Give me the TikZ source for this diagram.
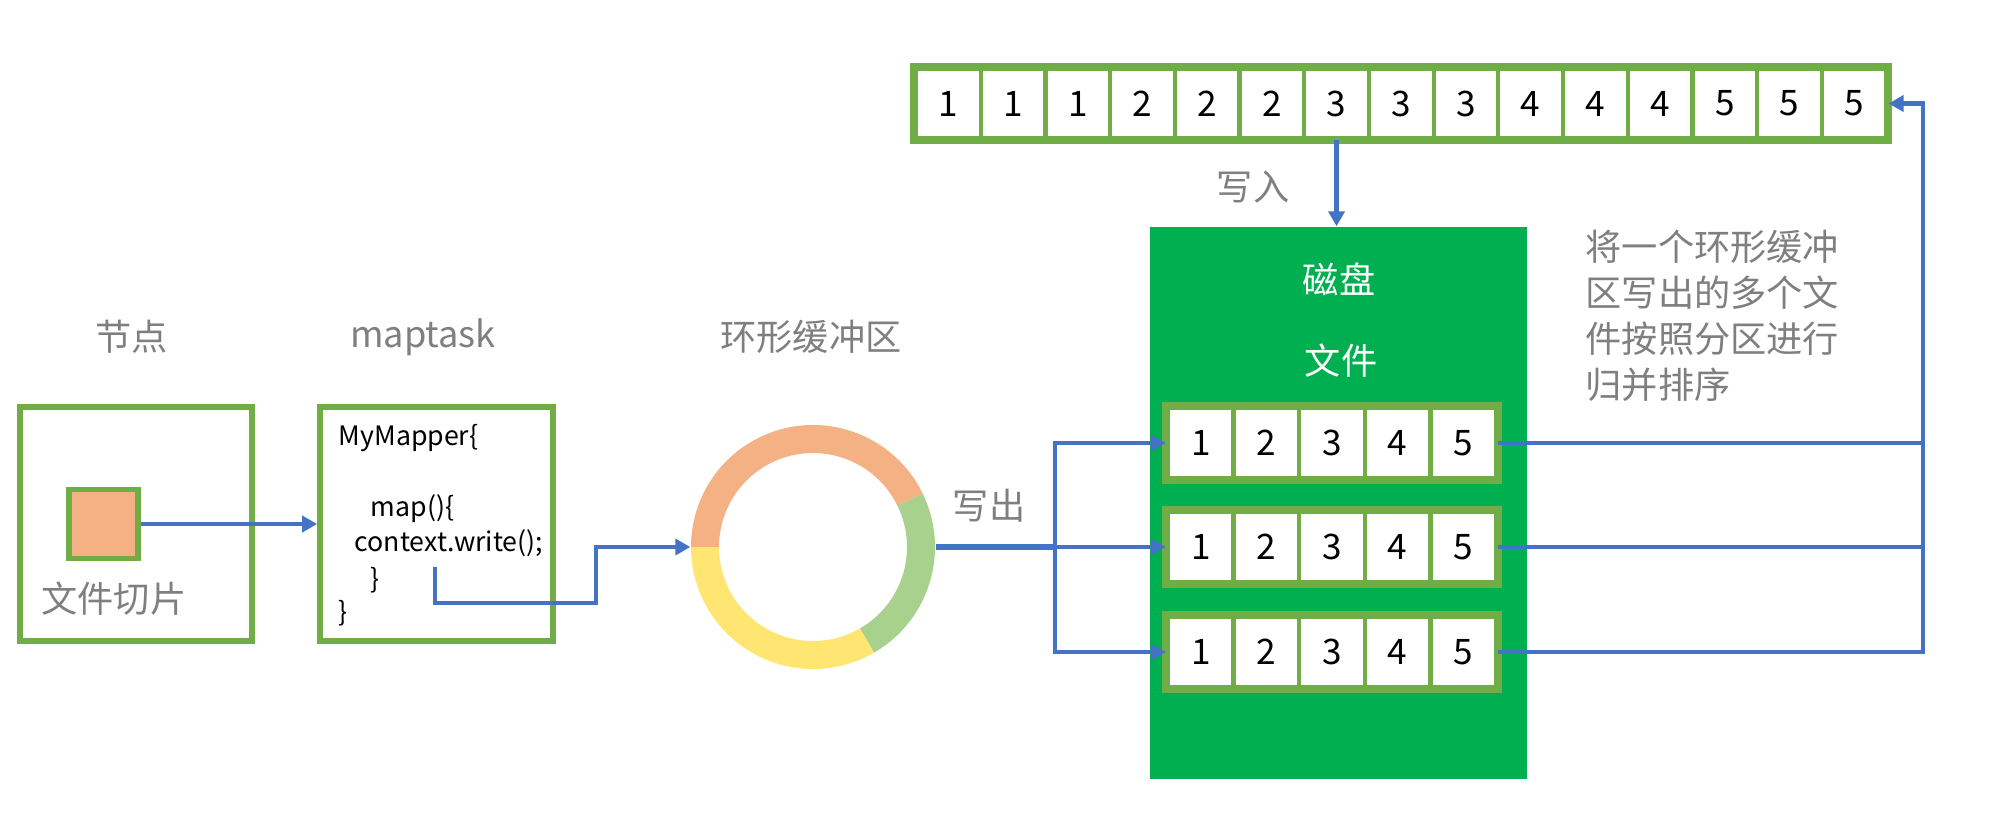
\documentclass[tikz,border=0pt]{standalone}
\usepackage{fontspec}
\setmainfont{Noto Sans CJK SC}
\usetikzlibrary{positioning,arrows.meta}
\definecolor{framegreen}{HTML}{70AD47}
\definecolor{diskgreen}{HTML}{00B050}
\definecolor{linkblue}{HTML}{4472C4}
\definecolor{slicefill}{HTML}{F4B183}
\definecolor{ringgreen}{HTML}{A9D18E}
\definecolor{ringyellow}{HTML}{FFE571}
\definecolor{notegray}{HTML}{7F7F7F}
\tikzset{
  frame/.style={draw=framegreen, line width=1.6pt},
  cell/.style={draw=framegreen, line width=1.2pt, fill=white, inner sep=0pt,
    minimum height=0.69cm, font=\fontsize{10}{12}\selectfont},
  link/.style={draw=linkblue, line width=1.4pt},
  flow/.style={link, -{Triangle[length=0.15cm,width=0.16cm]}},
  note/.style={text=notegray, inner sep=0pt, font=\fontsize{10.3}{13.1}\selectfont},
  code/.style={anchor=west, inner sep=0pt, font=\fontsize{7.6}{9}\selectfont},
}
\begin{document}
\begin{tikzpicture}
  \useasboundingbox (0,0) rectangle (19.99,-8.22);
  \node[note] at (1.32,-3.37) {节点};
  \node[note] at (4.23,-3.37) {maptask};
  \node[note] at (8.11,-3.37) {环形缓冲区};

  \node[frame, minimum width=2.32cm, minimum height=2.34cm] (host) at (1.36,-5.24) {};
  \node[frame, fill=slicefill, minimum size=0.69cm, inner sep=0pt] (slice) at (1.035,-5.24) {};
  \node[note] at (1.14,-5.99) {文件切片};

  \node[frame, minimum width=2.33cm, minimum height=2.34cm] (mapper) at (4.365,-5.24) {};
  \node[code] at (3.38,-4.38) {MyMapper\{};
  \node[code] at (3.70,-5.09) {map()\{};
  \node[code] at (3.54,-5.43) {context.write();};
  \node[code] at (3.70,-5.80) {\}};
  \node[code] at (3.38,-6.13) {\}};
  \coordinate (emit) at (4.35,-5.67);

  \draw[flow] (slice.east) -- (slice.east -| mapper.west);

  % ring buffer
  \node[circle, minimum size=2.44cm, inner sep=0pt] (ring) at (8.13,-5.47) {};
  \foreach \a/\b/\c in {26/180/slicefill, -60/26/ringgreen, 180/300/ringyellow}
    \fill[\c, shift={(8.13,-5.47)}] (\a:1.22) arc (\a:\b:1.22) -- (\b:0.94) arc (\b:\a:0.94) -- cycle;
  \draw[flow] (emit) |- (5.96,-6.03) |- (ring.west);

  % disk with spill files
  \node[fill=diskgreen, minimum width=3.77cm, minimum height=5.52cm, inner sep=0pt] (disk) at (13.385,-5.03) {};
  \node[note, text=white] at (13.39,-2.79) {磁盘};
  \node[note, text=white] at (13.41,-3.61) {文件};
  \foreach \r/\y in {1/-4.43, 2/-5.47, 3/-6.52}{
    \foreach \c in {1,...,5}
      \node[cell, minimum width=0.656cm, minimum height=0.70cm] (f\r-\c) at ({11.68+0.656*(\c-0.5)},\y) {\c};
    \draw[frame, line width=2pt] (f\r-1.north west) rectangle (f\r-5.south east);
  }

  % merged file
  \foreach \i in {1,...,15}{
    \pgfmathtruncatemacro\v{(\i+2)/3}
    \node[cell, minimum width=0.647cm] (top\i) at ({9.16+0.647*(\i-0.5)},-1.035) {\v};
  }
  \draw[frame, line width=2pt] (top1.north west) rectangle (top15.south east);

  \draw[flow] (top7.south) -- (top7.south |- disk.north);
  \node[note] at (12.53,-1.87) {写入};

  \coordinate (fork) at (10.55,-5.47);
  \draw[link, line width=1.9pt] (ring.east) -- (fork);
  \draw[flow] (fork) |- (f1-1.west);
  \draw[flow] (fork) |- (f3-1.west);
  \draw[flow] (fork) -- (f2-1.west);
  \node[note] at (9.89,-5.06) {写出};

  \coordinate (back) at (19.23,-6.52);
  \draw[link] (f1-5.east) -- (f1-5.east -| back);
  \draw[link] (f2-5.east) -- (f2-5.east -| back);
  \draw[flow] (f3-5.east) -- (back) |- (top15.east);

  \node[note, anchor=north west, align=left] at (15.85,-2.29)
    {将一个环形缓冲\\区写出的多个文\\件按照分区进行\\归并排序};
\end{tikzpicture}
\end{document}
